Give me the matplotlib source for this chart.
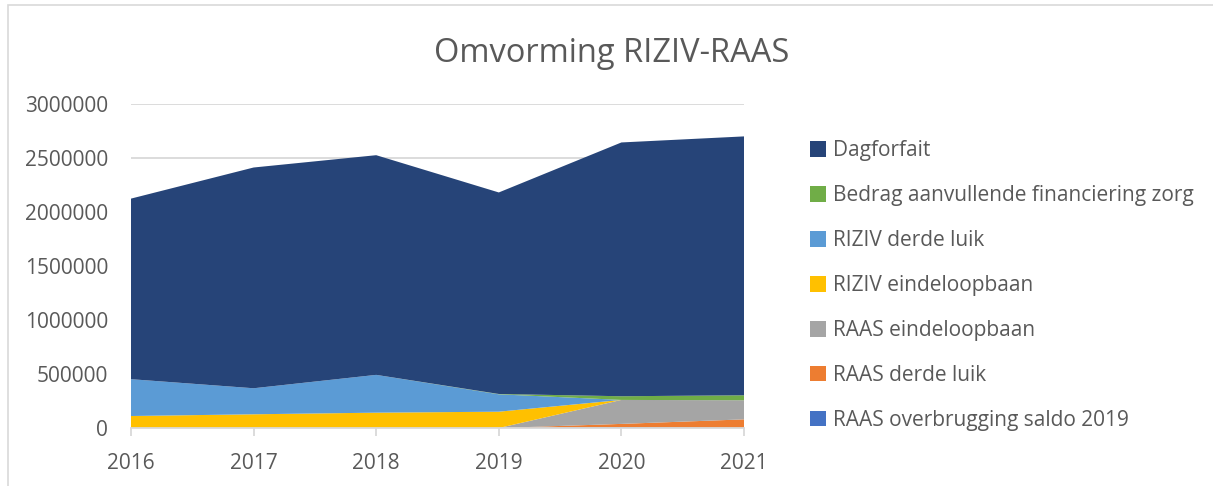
import numpy as np
import matplotlib.pyplot as plt
from matplotlib.patches import Rectangle, Patch

# ================================
# Data
# ================================
years = [2016, 2017, 2018, 2019, 2020, 2021]

raas_overbrugging = [0, 0, 0, 0, 8000, 0]
raas_derde_luik = [0, 0, 0, 0, 30000, 80000]
raas_eindeloopbaan = [0, 0, 0, 0, 222000, 177000]
riziv_eindeloopbaan = [111000, 127000, 142000, 151000, 0, 0]
riziv_derde_luik = [341000, 241000, 350000, 161000, 0, 0]
aanvullende_financiering = [0, 0, 0, 3000, 34000, 46000]
dagforfait = [1672000, 2044000, 2034000, 1866000, 2350000, 2397000]

labels = ["RAAS overbrugging saldo 2019", "RAAS derde luik", "RAAS eindeloopbaan",
          "RIZIV eindeloopbaan", "RIZIV derde luik",
          "Bedrag aanvullende financiering zorg", "Dagforfait"]
colors = ["#4472C4", "#ED7D31", "#A5A5A5", "#FFC000", "#5B9BD5", "#70AD47", "#264478"]

series = [raas_overbrugging, raas_derde_luik, raas_eindeloopbaan, riziv_eindeloopbaan,
          riziv_derde_luik, aanvullende_financiering, dagforfait]

# ================================
# Figure
# ================================
plt.rcParams['font.family'] = ['Open Sans', 'DejaVu Sans']
text_color = "#595959"

W, H = 1213, 486
fig = plt.figure(figsize=(W / 100, H / 100), dpi=100)

# chart border (light gray)
fig.patches.append(Rectangle((8 / W, -0.1), 1.2, 1.1 - 5 / H, transform=fig.transFigure,
                             fill=False, edgecolor="#d9d9d9", linewidth=1.2))

ax = fig.add_axes([131 / W, 1 - 428 / H, (744 - 131) / W, (428 - 104) / H])

ax.stackplot(years, *series, colors=colors, labels=labels, linewidth=0)

ax.set_xlim(2016, 2021)
ax.set_ylim(0, 3000000)
ax.set_yticks(np.arange(0, 3000001, 500000))
ax.yaxis.set_major_formatter(plt.FuncFormatter(lambda v, p: f"{int(v)}"))
ax.set_xticks(years)

ax.grid(axis='y', color="#d9d9d9", linewidth=1.3)
ax.set_axisbelow(True)
for s in ['top', 'right', 'left']:
    ax.spines[s].set_visible(False)
ax.spines['bottom'].set_color("#d9d9d9")
ax.spines['bottom'].set_linewidth(1.3)

ax.tick_params(axis='y', length=0, pad=16.5, labelsize=15, labelcolor=text_color)
ax.tick_params(axis='x', length=6, width=1.3, color="#d9d9d9", pad=12,
               labelsize=15, labelcolor=text_color)

fig.text(612 / W, 1 - 53 / H, "Omvorming RIZIV-RAAS", ha='center', va='center',
         fontsize=23.5, color=text_color)

# legend, top to bottom in reverse stacking order
handles = [Patch(facecolor=c, edgecolor='none') for c in colors][::-1]
leg = fig.legend(handles, labels[::-1], loc='upper left',
                 bbox_to_anchor=(802 / W, 1 - 132 / H), frameon=False,
                 fontsize=15, handlelength=0.75, handleheight=0.75,
                 handletextpad=0.35, labelspacing=1.15, borderaxespad=0)
for t in leg.get_texts():
    t.set_color(text_color)

fig.savefig("out.png", dpi=100)
